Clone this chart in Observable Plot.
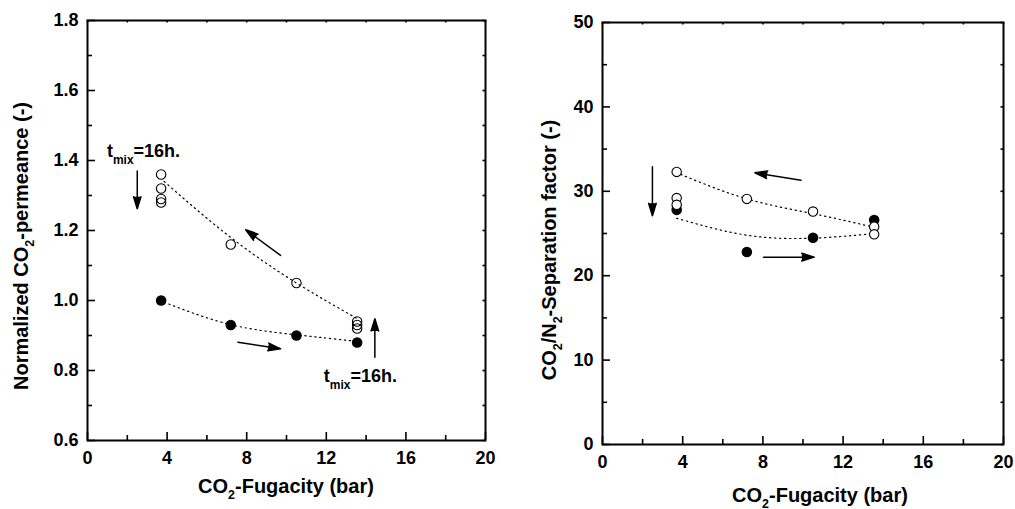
<!DOCTYPE html>
<html><head><meta charset="utf-8">
<script src="https://cdn.jsdelivr.net/npm/d3@7"></script>
<script src="https://cdn.jsdelivr.net/npm/@observablehq/plot@0.6"></script>
<style>
html,body{margin:0;padding:0;background:#fff;}
#wrap{display:flex;width:1015px;height:509px;}
svg{display:block;}
</style></head><body><div id="wrap"></div>
<script>
// ---------- data ----------
const fugacity = [3.7, 7.2, 10.5, 13.55];

// left panel: normalized CO2 permeance
const permOpenX = [3.7, 3.7, 3.7, 3.7, 7.2, 10.5, 13.55, 13.55, 13.55];
const permOpen = [1.36, 1.32, 1.29, 1.28, 1.16, 1.05, 0.94, 0.93, 0.92];
const permFilled = [1.00, 0.93, 0.90, 0.88];
const permFitOpenX = [3.85, 7.2, 10.5, 13.5];
const permFitOpen = [1.34, 1.18, 1.05, 0.95];
const permFitFilledX = [3.85, 7.2, 10.5, 13.4];
const permFitFilled = [0.995, 0.931, 0.902, 0.884];

// right panel: CO2/N2 separation factor
const sepOpenX = [3.7, 3.7, 3.7, 7.2, 10.5, 13.55, 13.55];
const sepOpen = [32.3, 29.2, 28.4, 29.1, 27.6, 25.8, 24.9];
const sepFilled = [27.8, 22.8, 24.5, 26.6];
const sepFitOpenX = [3.9, 7.2, 10.5, 13.6];
const sepFitOpen = [32.0, 29.1, 27.35, 25.7];
const sepFitFilledX = [3.7, 7.2, 10.5, 13.6];
const sepFitFilled = [26.8, 24.8, 24.45, 25.0];

// ticks
const xMajor = [0, 4, 8, 12, 16, 20];
const xMinor = [2, 6, 10, 14, 18];
const yMajorL = [0.6, 0.8, 1.0, 1.2, 1.4, 1.6, 1.8];
const yMinorL = [0.7, 0.9, 1.1, 1.3, 1.5, 1.7];
const yMajorR = [0, 10, 20, 30, 40, 50];
const yMinorR = [5, 15, 25, 35, 45];

// annotations (data coordinates)
const arrowsL = [
  {x1: 2.5, y1: 1.37, x2: 2.5, y2: 1.262},
  {x1: 9.7, y1: 1.129, x2: 7.95, y2: 1.202},
  {x1: 7.56, y1: 0.881, x2: 9.7, y2: 0.862},
  {x1: 14.44, y1: 0.838, x2: 14.44, y2: 0.948}
];
const arrowsR = [
  {x1: 2.49, y1: 32.9, x2: 2.49, y2: 27.1},
  {x1: 9.9, y1: 31.3, x2: 7.6, y2: 32.2},
  {x1: 8.03, y1: 22.2, x2: 10.56, y2: 22.2}
];
const tmixLabels = [{x: 1.0, y: 1.409}, {x: 11.9, y: 0.767}];

const FONT = "'Liberation Sans', Arial, Helvetica, sans-serif";

function panel(cfg) {
  const {width, height, ml, mr, mt, mb, yDomain, yMajor, yMinor, yFormat,
         openX, openY, openFill, filledY, fitOX, fitOY, fitFX, fitFY, arrows, filledFirst} = cfg;
  const kx = 20 / (width - ml - mr);
  const ky = (yDomain[1] - yDomain[0]) / (height - mt - mb);
  const y0 = yDomain[0], y1 = yDomain[1];
  const allX = xMajor.concat(xMinor);
  const allY = yMajor.concat(yMinor);
  const openDots = Plot.dot(openY, {x: (d, i) => openX[i], y: d => d, r: 4.7, stroke: "black", strokeWidth: 1.1, fill: openFill});
  const filledDots = Plot.dot(filledY, {x: (d, i) => fugacity[i], y: d => d, r: 5.3, fill: "black", stroke: "none"});
  const marks = [
    Plot.line(fitOY, {x: (d, i) => fitOX[i], y: d => d, curve: "natural", stroke: "black", strokeWidth: 1.2, strokeDasharray: "1.3,3.7"}),
    Plot.line(fitFY, {x: (d, i) => fitFX[i], y: d => d, curve: "natural", stroke: "black", strokeWidth: 1.2, strokeDasharray: "1.3,3.7"}),
    ...(filledFirst ? [filledDots, openDots] : [openDots, filledDots]),
    Plot.arrow(arrows, {x1: "x1", y1: "y1", x2: "x2", y2: "y2", stroke: "black", fill: "black", strokeWidth: 1.5, headLength: 13, headAngle: 34}),
    // inward ticks
    Plot.ruleX(xMajor, {x: d => d, y1: y0, y2: y0 + 8 * ky, stroke: "black", strokeWidth: 1.6}),
    Plot.ruleX(xMinor, {x: d => d, y1: y0, y2: y0 + 5 * ky, stroke: "black", strokeWidth: 1.6}),
    Plot.ruleX(allX, {x: d => d, y1: y1, y2: y1 - 2.5 * ky, stroke: "black", strokeWidth: 1.6}),
    Plot.ruleY(yMajor, {y: d => d, x1: 0, x2: 8 * kx, stroke: "black", strokeWidth: 1.6}),
    Plot.ruleY(yMinor, {y: d => d, x1: 0, x2: 5 * kx, stroke: "black", strokeWidth: 1.6}),
    Plot.ruleY(allY, {y: d => d, x1: 20, x2: 20 - 2.5 * kx, stroke: "black", strokeWidth: 1.6}),
    Plot.frame({stroke: "black", strokeWidth: 2}),
    Plot.axisX({ticks: xMajor, tickSize: 0, tickPadding: 11, label: null, fontSize: 18, fontWeight: "bold"}),
    Plot.axisY({ticks: yMajor, tickFormat: yFormat, tickSize: 0, tickPadding: 9, label: null, fontSize: 18, fontWeight: "bold"})
  ];
  return Plot.plot({
    width, height,
    marginLeft: ml, marginRight: mr, marginTop: mt, marginBottom: mb,
    x: {domain: [0, 20]},
    y: {domain: yDomain},
    style: {fontFamily: FONT, fontWeight: "bold", fontSize: "18px", color: "black", background: "white", overflow: "visible"},
    marks
  });
}

function addTitle(svg, parts, x, y, rotate, size) {
  const t = d3.select(svg).append("text")
    .attr("transform", `translate(${x},${y})` + (rotate ? " rotate(-90)" : ""))
    .attr("text-anchor", "middle")
    .attr("font-family", FONT).attr("font-weight", "bold")
    .attr("font-size", size).attr("fill", "black");
  const shift = size * 0.3;
  let pendingUp = false;
  for (const p of parts) {
    if (p.sub) {
      t.append("tspan").attr("font-size", size * 0.62).attr("dy", shift).text(p.sub);
      pendingUp = true;
    } else {
      const s = t.append("tspan").text(p.t);
      if (pendingUp) { s.attr("dy", -shift); pendingUp = false; }
    }
  }
}

const wrap = document.getElementById("wrap");

const left = panel({
  width: 507, height: 509, ml: 87, mr: 22, mt: 20, mb: 69,
  yDomain: [0.6, 1.8], yMajor: yMajorL, yMinor: yMinorL, yFormat: ".1f",
  openX: permOpenX, openY: permOpen, openFill: "none", filledY: permFilled,
  fitOX: permFitOpenX, fitOY: permFitOpen, fitFX: permFitFilledX, fitFY: permFitFilled,
  arrows: arrowsL, filledFirst: false
});
const right = panel({
  width: 508, height: 509, ml: 95, mr: 12, mt: 22, mb: 65,
  yDomain: [0, 50], yMajor: yMajorR, yMinor: yMinorR, yFormat: "d",
  openX: sepOpenX, openY: sepOpen, openFill: "white", filledY: sepFilled,
  fitOX: sepFitOpenX, fitOY: sepFitOpen, fitFX: sepFitFilledX, fitFY: sepFitFilled,
  arrows: arrowsR, filledFirst: true
});
wrap.appendChild(left);
wrap.appendChild(right);

const TS = 20;
addTitle(left, [{t: "CO"}, {sub: "2"}, {t: "-Fugacity (bar)"}], 286, 493, false, TS);
addTitle(left, [{t: "Normalized CO"}, {sub: "2"}, {t: "-permeance (-)"}], 28, 246, true, TS);
addTitle(right, [{t: "CO"}, {sub: "2"}, {t: "-Fugacity (bar)"}], 313, 502, false, TS);
addTitle(right, [{t: "CO"}, {sub: "2"}, {t: "/N"}, {sub: "2"}, {t: "-Separation factor (-)"}], 49, 250, true, TS);

// t_mix annotations positioned through the left plot's scales
const sx = left.scale("x"), sy = left.scale("y");
for (const a of tmixLabels) {
  const t = d3.select(left).append("text")
    .attr("x", sx.apply(a.x)).attr("y", sy.apply(a.y))
    .attr("text-anchor", "start")
    .attr("font-family", FONT).attr("font-weight", "bold")
    .attr("font-size", 18).attr("fill", "black");
  t.append("tspan").text("t");
  t.append("tspan").attr("font-size", 12).attr("dy", 7).text("mix");
  t.append("tspan").attr("dy", -7).text("=16h.");
}
</script></body></html>
